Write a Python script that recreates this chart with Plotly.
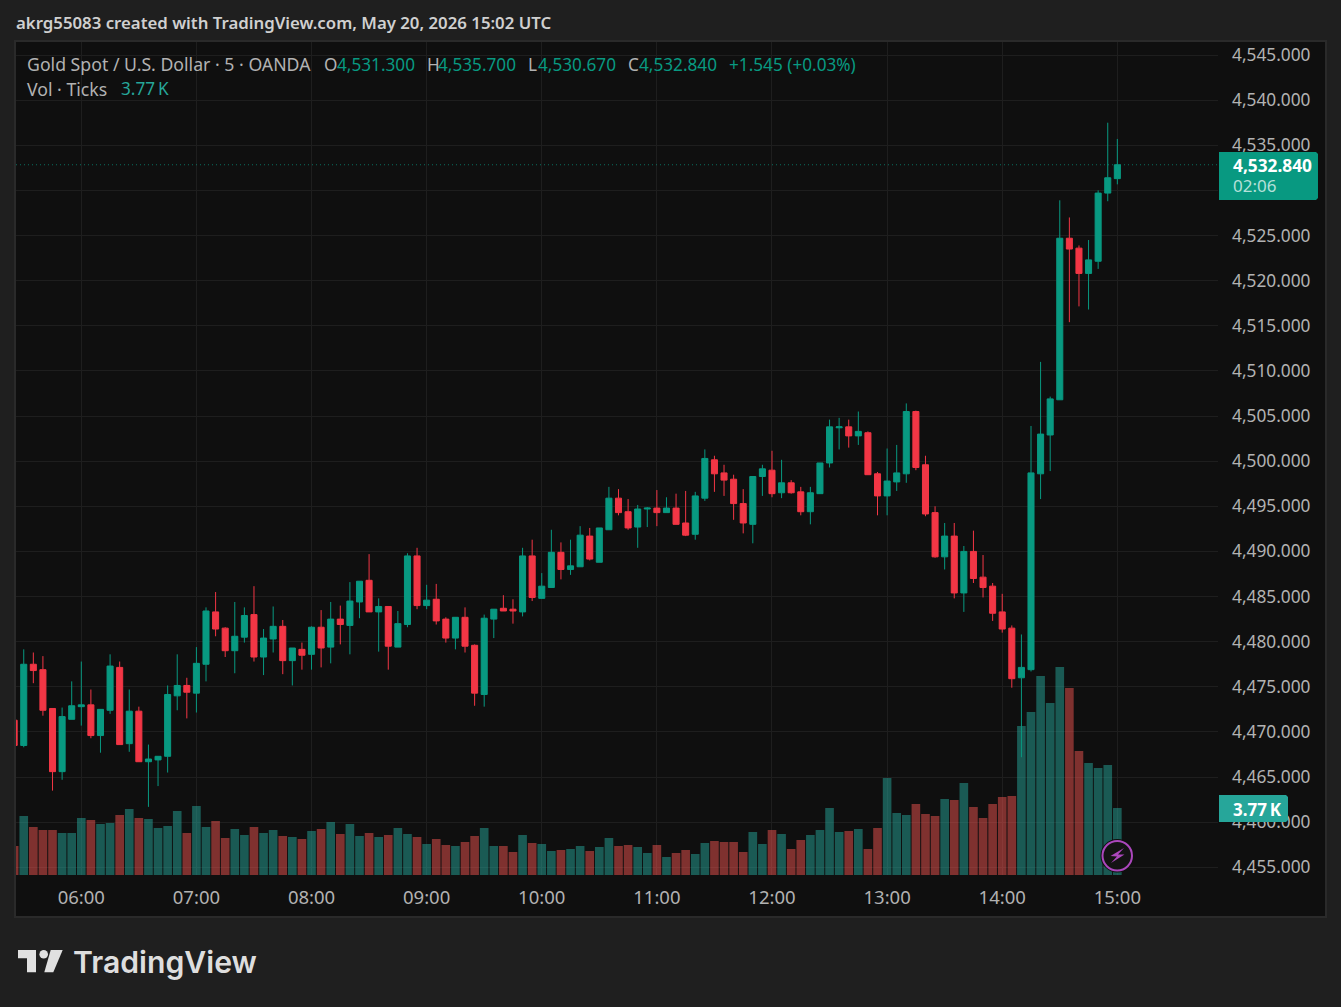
import pandas as pd
import plotly.graph_objects as go

# --- data (5 minute bars, first bar 05:25 UTC) ---
opens = [
    4471.3, 4468.5, 4477.5, 4476.9, 4472.6, 4465.6, 4471.4, 4472.8, 4473.0, 4469.6, 4472.4, 4477.15,
    4468.7, 4472.3, 4466.7, 4466.9, 4467.3, 4474.0, 4475.15, 4474.3, 4477.5, 4483.3, 4481.5, 4479.0,
    4480.5, 4483.0, 4478.3, 4480.3, 4481.7, 4477.9, 4479.15, 4478.6, 4481.6, 4479.4, 4482.5, 4481.8,
    4484.4, 4486.8, 4483.3, 4483.9, 4479.4, 4481.9, 4489.5, 4484.0, 4484.7, 4482.5, 4480.4, 4482.7,
    4479.6, 4474.15, 4482.5, 4483.7, 4483.6, 4483.3, 4489.5, 4484.8, 4486.0, 4489.9, 4488.0, 4488.3,
    4491.7, 4488.8, 4492.4, 4495.9, 4494.4, 4492.7, 4494.7, 4494.8, 4494.3, 4494.8, 4493.15, 4491.9,
    4495.9, 4500.15, 4498.7, 4498.0, 4495.3, 4493.0, 4498.3, 4499.0, 4496.5, 4497.6, 4496.6, 4494.4,
    4496.4, 4499.8, 4503.7, 4503.8, 4502.8, 4503.15, 4498.6, 4496.15, 4497.7, 4498.6, 4505.5, 4499.6,
    4494.3, 4489.4, 4491.7, 4485.4, 4490.0, 4487.15, 4486.15, 4483.3, 4481.5, 4476.0, 4476.9, 4498.6,
    4502.9, 4506.8, 4524.7, 4523.6, 4520.8, 4522.15, 4529.7, 4531.3,
]
highs = [
    4471.3, 4479.15, 4478.8, 4478.4, 4472.6, 4472.7, 4475.6, 4477.8, 4474.7, 4472.5, 4478.6, 4477.8,
    4474.7, 4472.8, 4468.6, 4467.3, 4475.15, 4478.6, 4476.0, 4479.4, 4483.8, 4485.5, 4481.6, 4484.4,
    4483.8, 4486.15, 4481.4, 4483.9, 4482.4, 4479.3, 4479.9, 4481.7, 4483.5, 4484.4, 4484.0, 4486.6,
    4486.7, 4489.7, 4484.8, 4483.9, 4483.4, 4489.8, 4490.4, 4486.3, 4486.4, 4482.7, 4482.7, 4483.8,
    4479.7, 4483.0, 4483.6, 4485.15, 4484.7, 4490.4, 4491.3, 4487.6, 4492.4, 4491.0, 4491.3, 4492.8,
    4492.6, 4492.6, 4497.15, 4496.9, 4495.8, 4495.15, 4494.9, 4496.8, 4496.0, 4496.4, 4496.7, 4496.6,
    4501.3, 4500.6, 4499.6, 4498.5, 4496.9, 4498.3, 4499.6, 4501.15, 4500.15, 4497.9, 4497.15, 4497.15,
    4499.8, 4504.6, 4504.8, 4504.6, 4505.5, 4503.3, 4498.8, 4501.4, 4501.8, 4506.4, 4505.6, 4500.6,
    4495.0, 4493.15, 4493.15, 4490.6, 4492.3, 4489.6, 4486.5, 4485.3, 4481.8, 4480.8, 4503.9, 4511.0,
    4507.15, 4528.9, 4527.0, 4523.9, 4524.5, 4530.0, 4537.5, 4535.7,
]
lows = [
    4468.5, 4468.3, 4475.4, 4471.8, 4463.5, 4464.7, 4471.4, 4470.7, 4469.3, 4467.7, 4472.0, 4468.6,
    4467.8, 4466.7, 4461.7, 4464.0, 4465.5, 4472.4, 4471.5, 4472.15, 4475.6, 4480.6, 4478.3, 4476.5,
    4479.9, 4477.8, 4476.3, 4478.8, 4476.4, 4475.15, 4476.9, 4476.9, 4477.15, 4477.6, 4479.7, 4478.6,
    4482.6, 4483.3, 4478.9, 4476.9, 4479.4, 4481.6, 4483.6, 4483.6, 4481.9, 4479.9, 4479.15, 4478.8,
    4472.9, 4472.8, 4480.4, 4483.4, 4482.0, 4482.8, 4484.5, 4484.8, 4486.0, 4486.9, 4487.4, 4488.3,
    4489.0, 4488.8, 4492.4, 4494.0, 4492.4, 4490.4, 4492.7, 4492.8, 4494.3, 4493.0, 4491.7, 4491.3,
    4495.6, 4496.6, 4496.15, 4493.5, 4492.0, 4490.9, 4496.15, 4496.0, 4495.9, 4496.4, 4494.0, 4493.0,
    4496.4, 4499.3, 4501.3, 4501.5, 4501.8, 4498.5, 4494.0, 4494.0, 4496.7, 4497.6, 4499.0, 4493.9,
    4489.3, 4488.0, 4484.8, 4483.3, 4486.5, 4484.9, 4482.3, 4481.0, 4474.9, 4467.2, 4476.7, 4495.8,
    4498.9, 4506.8, 4515.4, 4517.15, 4516.8, 4521.3, 4528.8, 4530.67,
]
closes = [
    4468.5, 4477.5, 4476.8, 4472.4, 4465.6, 4471.7, 4472.9, 4473.0, 4469.6, 4472.5, 4477.3, 4468.6,
    4472.3, 4466.7, 4467.0, 4467.3, 4474.15, 4475.15, 4474.4, 4477.6, 4483.4, 4481.4, 4479.0, 4480.6,
    4482.9, 4478.3, 4480.4, 4481.7, 4477.9, 4479.3, 4478.5, 4481.6, 4479.3, 4482.5, 4481.9, 4484.5,
    4486.7, 4483.3, 4483.9, 4479.5, 4482.0, 4489.5, 4484.0, 4484.6, 4482.3, 4480.4, 4482.7, 4479.5,
    4474.3, 4482.6, 4483.6, 4483.4, 4483.4, 4489.5, 4484.9, 4486.15, 4489.9, 4488.0, 4488.4, 4491.8,
    4489.15, 4492.6, 4495.9, 4494.3, 4492.6, 4494.7, 4494.8, 4494.3, 4494.8, 4493.0, 4491.8, 4496.15,
    4500.3, 4498.6, 4497.9, 4495.3, 4493.15, 4498.3, 4499.15, 4496.4, 4497.6, 4496.5, 4494.4, 4496.5,
    4499.8, 4503.8, 4503.8, 4502.8, 4503.3, 4498.5, 4496.15, 4497.8, 4498.7, 4505.5, 4499.3, 4494.15,
    4489.4, 4491.7, 4485.4, 4490.0, 4487.0, 4486.0, 4483.15, 4481.4, 4475.9, 4477.15, 4498.7, 4503.0,
    4506.9, 4524.7, 4523.5, 4520.8, 4522.3, 4529.7, 4531.4, 4532.84,
]
volumes = [
    1632, 3320, 2701, 2533, 2533, 2364, 2364, 3208, 3095, 2870, 2927, 3377,
    3714, 3208, 3152, 2645, 2758, 3602, 2364, 3883, 2701, 3039, 2082, 2589,
    2251, 2701, 2364, 2533, 2195, 2139, 2026, 2476, 2589, 2983, 2307, 2870,
    2195, 2364, 2139, 2251, 2645, 2307, 2139, 1745, 2026, 1688, 1632, 1857,
    2195, 2645, 1632, 1632, 1294, 2251, 1801, 1745, 1351, 1407, 1463, 1632,
    1351, 1576, 2082, 1632, 1688, 1576, 1238, 1688, 1013, 1238, 1407, 1182,
    1801, 1913, 1857, 1857, 1294, 2420, 1745, 2533, 2307, 1463, 1970, 2251,
    2533, 3770, 2420, 2476, 2589, 1463, 2645, 5459, 3489, 3377, 3996, 3433,
    3320, 4277, 4221, 5178, 3827, 3208, 3996, 4390, 4446, 8386, 9174, 11200,
    9680, 11706, 10524, 6979, 6303, 6022, 6191, 3770,
]
hour_ticks = ["2026-05-20 %02d:00" % h for h in range(6, 16)]
hour_labels = ["06:00", "07:00", "08:00", "09:00", "10:00", "11:00", "12:00", "13:00", "14:00", "15:00"]
price_ticks = [4455, 4460, 4465, 4470, 4475, 4480, 4485, 4490, 4495, 4500,
               4505, 4510, 4515, 4520, 4525, 4530, 4535, 4540, 4545]
last_price = 4532.84

# --- colours and page geometry ---
UP, DOWN = "#089981", "#F23645"
VOL_UP, VOL_DOWN = "rgba(38,166,154,0.5)", "rgba(239,83,80,0.5)"
VOL_TEAL = "#26a69a"
TEXT = "#b2b2b2"
FONT = "Noto Sans"
W, H = 1341, 1007
L, R, T, B = 16, 1218, 42, 875


def px(x):
    return (x - L) / (R - L)


def py(y):
    return (B - y) / (B - T)


def label(text, x, y, color=TEXT, size=17.2, weight=None, family=FONT):
    return dict(text=text, xref="paper", yref="paper", x=px(x), y=py(y), xanchor="left", yanchor="middle",
                showarrow=False, borderpad=0, font=dict(family=family, size=size, color=color, weight=weight))


def box(x0, y0, x1, y1, **kw):
    return dict(type="rect", xref="paper", yref="paper", x0=px(x0), y0=py(y0), x1=px(x1), y1=py(y1), **kw)


def poly(points, color):
    path = "M " + " L ".join("%.5f %.5f" % (px(a), py(b)) for a, b in points) + " Z"
    return dict(type="path", xref="paper", yref="paper", path=path, fillcolor=color, line_width=0)


def tag(x0, y0, x1, y1, color):
    # price tag with slightly cut right corners
    return poly([(x0, y0), (x1 - 2, y0), (x1, y0 + 2), (x1, y1 - 2), (x1 - 2, y1), (x0, y1)], color)


times = pd.date_range("2026-05-20 05:25", periods=len(closes), freq="5min")

# --- build plot ---
fig = go.Figure()
fig.add_trace(go.Bar(
    x=times, y=volumes, yaxis="y", showlegend=False,
    marker=dict(color=[VOL_UP if c >= o else VOL_DOWN for o, c in zip(opens, closes)], line_width=0),
))
fig.add_trace(go.Candlestick(
    x=times, open=opens, high=highs, low=lows, close=closes, yaxis="y2", showlegend=False,
    whiskerwidth=0,
    increasing=dict(line=dict(color=UP, width=1), fillcolor=UP),
    decreasing=dict(line=dict(color=DOWN, width=1), fillcolor=DOWN),
))

shapes = [
    box(15, 41, 1326, 917, fillcolor="#0f0f0f", line=dict(color="#2a2a2a", width=2), layer="below"),
    dict(type="line", xref="paper", yref="y2", x0=0, x1=1, y0=last_price, y1=last_price, opacity=0.7,
         line=dict(color=UP, width=1, dash="1px,3px")),
    tag(1219, 152, 1318, 200, UP),
    tag(1219, 795, 1288, 822, VOL_TEAL),
    # replay bolt badge
    dict(type="circle", xref="paper", yref="paper", x0=px(1100.5), y0=py(872.5), x1=px(1134), y1=py(839),
         fillcolor="#0f0f0f", line_width=0),
    dict(type="circle", xref="paper", yref="paper", x0=px(1102.5), y0=py(870.5), x1=px(1132), y1=py(841),
         fillcolor="#131313", line=dict(color="#ab47bc", width=2)),
    poly([(1124, 848), (1110.5, 856), (1117, 856.5), (1111, 863), (1124.5, 854.5), (1118, 854.5)], "#ab47bc"),
    # TradingView mark
    poly([(18, 950), (36, 950), (36, 972.3), (27, 972.3), (27, 958.3), (18, 958.3)], "#e0e0e0"),
    dict(type="circle", xref="paper", yref="paper", x0=px(39.4), y0=py(958.6), x1=px(48), y1=py(950),
         fillcolor="#e0e0e0", line_width=0),
    poly([(50.7, 950), (62.7, 950), (53.3, 972.3), (44.3, 972.3)], "#e0e0e0"),
]

annotations = [
    label("akrg55083 created with TradingView.com, May 20, 2026 15:02 UTC", 15, 23, "#d0d0d0", 16.8, 600),
    label("Gold Spot / U.S. Dollar · 5 · OANDA", 26, 64, size=17.7),
    label("O", 323, 64),
    label("4,531.300", 336, 64, UP),
    label("H", 426, 64),
    label("4,535.700", 437, 64, UP),
    label("L", 527, 64),
    label("4,530.670", 537, 64, UP),
    label("C", 627, 64),
    label("4,532.840", 638, 64, UP),
    label("+1.545 (+0.03%)", 728, 64, UP),
    label("Vol · Ticks", 26, 89, size=17.7),
    label("3.77\u2009K", 120, 89, VOL_TEAL),
    label("4,532.840", 1232, 165, "#ffffff", 17.3, 700),
    label("02:06", 1232, 186, "#b5e0d9", 17),
    label("3.77\u2009K", 1232, 809, "#ffffff", 17, 700),
    label("TradingView", 72, 962, "#dedede", 30.2, 600, "Inter"),
]

fig.update_layout(
    width=W, height=H,
    margin=dict(l=L, r=W - R, t=T, b=H - B, pad=0),
    paper_bgcolor="#1f1f1f", plot_bgcolor="#0f0f0f",
    font=dict(family=FONT, size=17, color=TEXT),
    bargap=0.1, boxgap=0.1, hovermode=False,
    shapes=shapes, annotations=annotations,
    xaxis=dict(
        type="date", range=["2026-05-20 05:25:58", "2026-05-20 15:52:28"], rangeslider_visible=False,
        tickvals=hour_ticks, ticktext=hour_labels, ticks="", ticklabelstandoff=9,
        tickfont=dict(size=18.5),
        showgrid=True, gridcolor="#1e1e1e", gridwidth=1, zeroline=False, showline=False,
    ),
    yaxis=dict(range=[0, 46882], visible=False, showgrid=False, zeroline=False),
    yaxis2=dict(
        overlaying="y", side="right", anchor="x", range=[4454.15, 4546.44],
        tickvals=price_ticks, tickformat=",.3f", ticks="", ticklabelstandoff=13,
        tickfont=dict(size=17.3),
        showgrid=True, gridcolor="#1e1e1e", gridwidth=1, zeroline=False, showline=False,
    ),
)

fig.write_html("out.html", config={"displayModeBar": False}, post_script="document.body.style.margin='0';")
